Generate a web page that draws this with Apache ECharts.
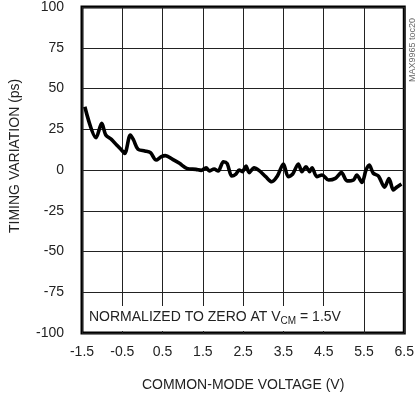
<!DOCTYPE html>
<html><head><meta charset="utf-8">
<script src="https://cdn.jsdelivr.net/npm/echarts@6/dist/echarts.min.js"></script>
<style>html,body{margin:0;padding:0;background:#fff}#c{width:417px;height:397px}</style>
</head><body><div id="c"></div>
<script>
var voltage = [-1.43,-1.15,-1.01,-0.91,-0.77,-0.64,-0.52,-0.44,-0.30,-0.22,-0.11,0.06,0.20,0.34,0.47,0.57,0.75,0.92,1.10,1.33,1.46,1.58,1.66,1.78,1.88,2.01,2.10,2.22,2.32,2.40,2.48,2.57,2.65,2.77,2.90,3.06,3.21,3.35,3.50,3.62,3.73,3.87,3.96,4.06,4.15,4.21,4.33,4.46,4.62,4.79,4.94,5.08,5.24,5.32,5.45,5.55,5.63,5.73,5.86,6.01,6.12,6.23,6.31,6.43];
var timing = [38.8,19.8,28.6,21.5,18.8,15.3,12.3,10.2,21.5,18.4,12.7,11.7,10.6,6.1,8.2,8.8,6.5,4.1,1.0,0.4,-0.2,1.4,-0.6,0.6,-0.6,5.1,4.1,-3.7,-2.5,0,-1.0,2.5,-1.6,1.4,-0.4,-4.1,-7.2,-3.7,3.7,-4.1,-2.5,3.7,-1.0,2.0,-1.0,1.4,-4.1,-3.1,-6.1,-5.1,-1.6,-6.7,-6.1,-3.1,-7.6,0,3.1,-2.0,-3.7,-10.6,-5.3,-12.3,-10.6,-8.6];
var xTicks = ['-1.5','-0.5','0.5','1.5','2.5','3.5','4.5','5.5','6.5'];
var yTicks = ['-100','-75','-50','-25','0','25','50','75','100'];
var FONT = '"Liberation Sans Narrow","Arial Narrow","Liberation Sans",sans-serif';
var chart = echarts.init(document.getElementById('c'), null, {renderer:'canvas'});
var pts = voltage.map(function(v,i){return [v,timing[i]];});
chart.setOption({
  animation:false,
  grid:{left:82,right:11,top:7,bottom:64,show:true,borderColor:'#000',borderWidth:3,backgroundColor:'transparent'},
  xAxis:{type:'value',min:-1.5,max:6.5,interval:1,
    name:'COMMON-MODE VOLTAGE (V)',nameLocation:'middle',nameGap:45,
    nameTextStyle:{fontFamily:FONT,fontSize:14,color:'#222'},
    axisLine:{show:false},axisTick:{show:false},
    splitLine:{show:true,lineStyle:{color:'#222',width:1}},
    axisLabel:{fontFamily:FONT,fontSize:14,color:'#222',margin:12,
      formatter:function(v){var i=Math.round(v+1.5);return xTicks[i]!==undefined?xTicks[i]:'';}}},
  yAxis:{type:'value',min:-100,max:100,interval:25,
    axisLine:{show:false},axisTick:{show:false},
    splitLine:{show:true,lineStyle:{color:'#222',width:1}},
    axisLabel:{fontFamily:FONT,fontSize:14,color:'#222',margin:18,
      formatter:function(v){var i=Math.round((v+100)/25);return yTicks[i]!==undefined?yTicks[i]:'';}}},
  graphic:[
    {type:'text',rotation:Math.PI/2,style:{text:'TIMING VARIATION (ps)',font:'14px '+FONT,fill:'#222'},x:8,y:233,originX:0,originY:0},
    {type:'rect',shape:{x:84,y:306,width:258,height:25},style:{fill:'#fff'},z:50},
    {type:'text',x:89,y:306,z:51,style:{
      text:'{a|NORMALIZED TO ZERO AT V}{s|CM}{a| = 1.5V}',
      rich:{a:{font:'14px '+FONT,fill:'#222',lineHeight:22,verticalAlign:'middle'},
            s:{font:'10px '+FONT,fill:'#222',padding:[9,0,0,0],verticalAlign:'middle'}}}},
    {type:'text',x:408,y:82,rotation:Math.PI/2,z:51,style:{text:'MAX9965 toc20',font:'9px '+FONT,fill:'#666'}}
  ],
  series:[{type:'line',data:pts,showSymbol:false,smooth:0.3,
    lineStyle:{color:'#000',width:3.6},z:10}]
});
</script></body></html>
